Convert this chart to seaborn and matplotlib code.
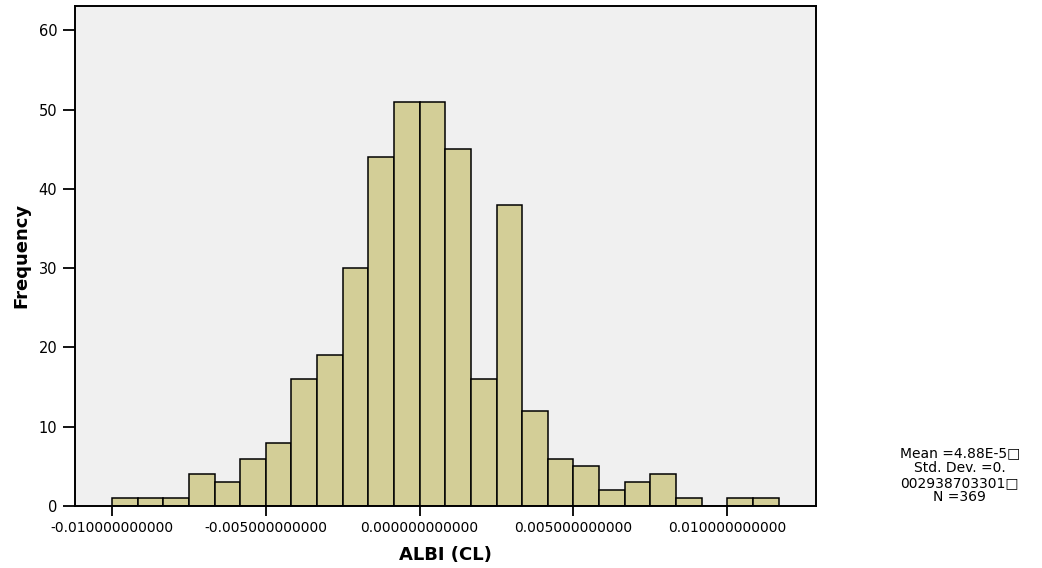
import numpy as np
import pandas as pd
import matplotlib
matplotlib.use("Agg")
import matplotlib.pyplot as plt
import seaborn as sns

# Histogram of ALBI (CL): 26 bins of width 0.01/12 starting at -0.01
bin_start = -0.01
bin_width = 0.01 / 12
counts = [1, 1, 1, 4, 3, 6, 8, 16, 19, 30, 44, 51,
          51, 45, 16, 38, 12, 6, 5, 2, 3, 4, 1, 0, 1, 1]
tick_values = [-0.01, -0.005, 0.0, 0.005, 0.01]
stats_lines = ["Mean =4.88E-5\u25a1", "Std. Dev. =0.", "002938703301\u25a1", "N =369"]

edges = bin_start + bin_width * np.arange(len(counts) + 1)
centers = (edges[:-1] + edges[1:]) / 2
df = pd.DataFrame({"ALBI": centers, "count": counts})

sns.set_style("white")
plt.rcParams["font.family"] = ["DejaVu Sans"]
plt.rcParams["text.color"] = "black"
plt.rcParams["axes.labelcolor"] = "black"
plt.rcParams["xtick.color"] = "black"
plt.rcParams["ytick.color"] = "black"

fig = plt.figure(figsize=(10.42, 5.68), dpi=100)
ax = fig.add_axes([0.0715, 0.109, 0.7115, 0.881])
ax.set_facecolor("#f0f0f0")

sns.histplot(data=df, x="ALBI", weights="count", bins=len(counts),
             binrange=(edges[0], edges[-1]), ax=ax,
             color="#d3ce97", alpha=1.0, edgecolor="black", linewidth=1.1)

ax.set_xlim(-0.01122, 0.01288)
ax.set_ylim(0, 63.1)
ax.set_xticks(tick_values)
ax.set_xticklabels([f"{v:.12f}" for v in tick_values], fontsize=10)
ax.set_yticks(range(0, 70, 10))
ax.tick_params(axis="y", labelsize=10.5, length=9, width=1.3, colors="black", left=True)
ax.tick_params(axis="x", length=7, width=1.3, colors="black", bottom=True)

for s in ax.spines.values():
    s.set_visible(True)
    s.set_color("black")
    s.set_linewidth(1.4)

ax.set_xlabel("ALBI (CL)", fontsize=13, fontweight="bold", labelpad=8, color="black")
ax.set_ylabel("Frequency", fontsize=13, fontweight="bold", labelpad=6, color="black")

fig.text(0.921, 0.163, "\n".join(stats_lines), ha="center", va="center",
         fontsize=10, linespacing=1.05, color="black")

fig.savefig("out.png", dpi=100)
